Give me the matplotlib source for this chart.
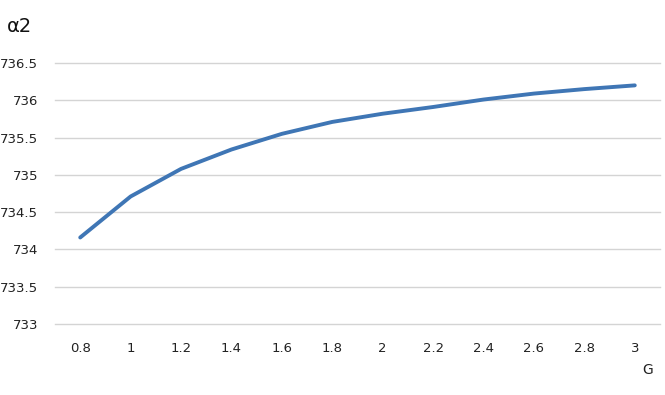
import matplotlib
matplotlib.use("Agg")
import matplotlib.pyplot as plt

# G values (category axis) and alpha2 readings
g_labels = ["0.8", "1", "1.2", "1.4", "1.6", "1.8", "2", "2.2", "2.4", "2.6", "2.8", "3"]
alpha2 = [734.16, 734.71, 735.08, 735.34, 735.55, 735.71,
          735.82, 735.91, 736.01, 736.09, 736.15, 736.20]
y_ticks = [733, 733.5, 734, 734.5, 735, 735.5, 736, 736.5]

plt.rcParams['font.family'] = ['DejaVu Sans']

fig = plt.figure(figsize=(6.65, 3.95), dpi=100)
ax = fig.add_axes([55 / 665, 71 / 395, 605 / 665, 261 / 395])

x = list(range(len(g_labels)))
ax.plot(x, alpha2, color='#3f76b5', lw=2.8, solid_capstyle='round')

ax.set_xlim(-0.5, len(g_labels) - 0.5)
ax.set_ylim(733, 736.5)
ax.set_xticks(x)
ax.set_xticklabels(g_labels)
ax.set_yticks(y_ticks)
ax.set_yticklabels([f"{v:g}" for v in y_ticks])
ax.grid(axis='y', color='#d4d4d4', lw=1.0)
for gl in ax.get_ygridlines():
    gl.set_clip_on(False)
ax.set_axisbelow(True)
for s in ax.spines.values():
    s.set_visible(False)
ax.tick_params(axis='both', length=0, labelsize=9.5, colors='#222222')
ax.tick_params(axis='x', pad=13)
ax.tick_params(axis='y', pad=12)

fig.text(7 / 665, 1 - 27 / 395, "α2", fontsize=14, va='center', ha='left', color='#111111')
fig.text(648 / 665, 1 - 370 / 395, "G", fontsize=10, va='center', ha='center', color='#222222')

fig.savefig("out.png", dpi=100)
